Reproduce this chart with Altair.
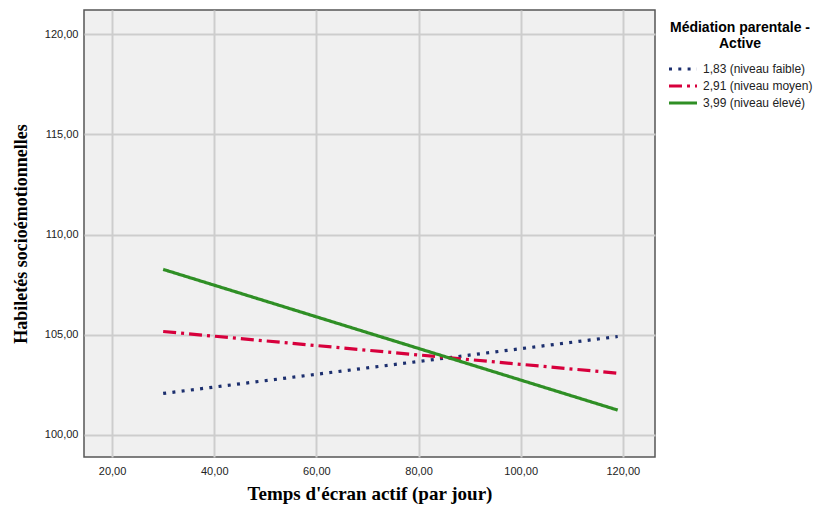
import altair as alt
import pandas as pd

# Data
series = ["1,83 (niveau faible)", "2,91 (niveau moyen)", "3,99 (niveau élevé)"]
x_start = [30.0, 30.0, 30.0]
x_end = [119.0, 119.0, 119.0]
y_start = [102.07, 105.16, 108.26]
y_end = [104.91, 103.08, 101.24]

colors = ["#1c2f6e", "#d7003c", "#2f8f25"]
dashes = [[3, 6.3], [13, 5, 3, 5], [1, 0]]

rows = []
for s, xa, xb, ya, yb in zip(series, x_start, x_end, y_start, y_end):
    rows.append({"serie": s, "x": xa, "y": ya})
    rows.append({"serie": s, "x": xb, "y": yb})
df = pd.DataFrame(rows)

x_ticks = [20, 40, 60, 80, 100, 120]
y_ticks = [100, 105, 110, 115, 120]

comma_expr = "replace(format(datum.value, '.2f'), '.', ',')"
legend_title = ["Médiation parentale -", "Active"]

chart = alt.Chart(df).mark_line(strokeWidth=3.2, strokeCap="butt").encode(
    x=alt.X("x:Q", scale=alt.Scale(domain=[14.5, 126.3], nice=False, zero=False),
            axis=alt.Axis(values=x_ticks, labelExpr=comma_expr, title="Temps d'écran actif (par jour)",
                          ticks=False, domain=False, labelFont="Liberation Sans", labelFontSize=11,
                          labelColor="#222", labelPadding=8,
                          titleFont="Liberation Serif", titleFontSize=19, titleFontWeight="bold",
                          titleColor="#000", titlePadding=8,
                          gridColor="#cdcdcd", gridWidth=2)),
    y=alt.Y("y:Q", scale=alt.Scale(domain=[98.9, 121.2], nice=False, zero=False),
            axis=alt.Axis(values=y_ticks, labelExpr=comma_expr, title="Habiletés socioémotionnelles",
                          ticks=False, domain=False, labelFont="Liberation Sans", labelFontSize=11,
                          labelColor="#222", labelPadding=6,
                          titleFont="Liberation Serif", titleFontSize=18, titleFontWeight="bold",
                          titleColor="#000", titlePadding=14,
                          gridColor="#cdcdcd", gridWidth=2)),
    color=alt.Color("serie:N", sort=series, scale=alt.Scale(domain=series, range=colors),
                    legend=alt.Legend(title=legend_title)),
    strokeDash=alt.StrokeDash("serie:N", sort=series, scale=alt.Scale(domain=series, range=dashes),
                              legend=alt.Legend(title=legend_title)),
).properties(
    width=571, height=447,
    background="white",
    autosize=alt.AutoSizeParams(type="none"),
    padding={"left": 76, "top": 2, "right": 165, "bottom": 48},
).configure_view(
    fill="#f0f0f0", stroke="#555555", strokeWidth=1.5
).configure_legend(
    orient="none", legendX=583, legendY=11, padding=0,
    symbolType="stroke", symbolSize=784, symbolStrokeWidth=3.2,
    titleFont="Liberation Sans", titleFontSize=14, titleFontWeight="bold", titleColor="#000",
    titleAlign="center", titleAnchor="middle", titleLineHeight=16, titlePadding=11,
    labelFont="Liberation Sans", labelFontSize=12, labelColor="#222", labelOffset=4,
    clipHeight=14, rowPadding=3,
)

chart.save("out.html", embed_options={"renderer": "svg", "actions": False})
